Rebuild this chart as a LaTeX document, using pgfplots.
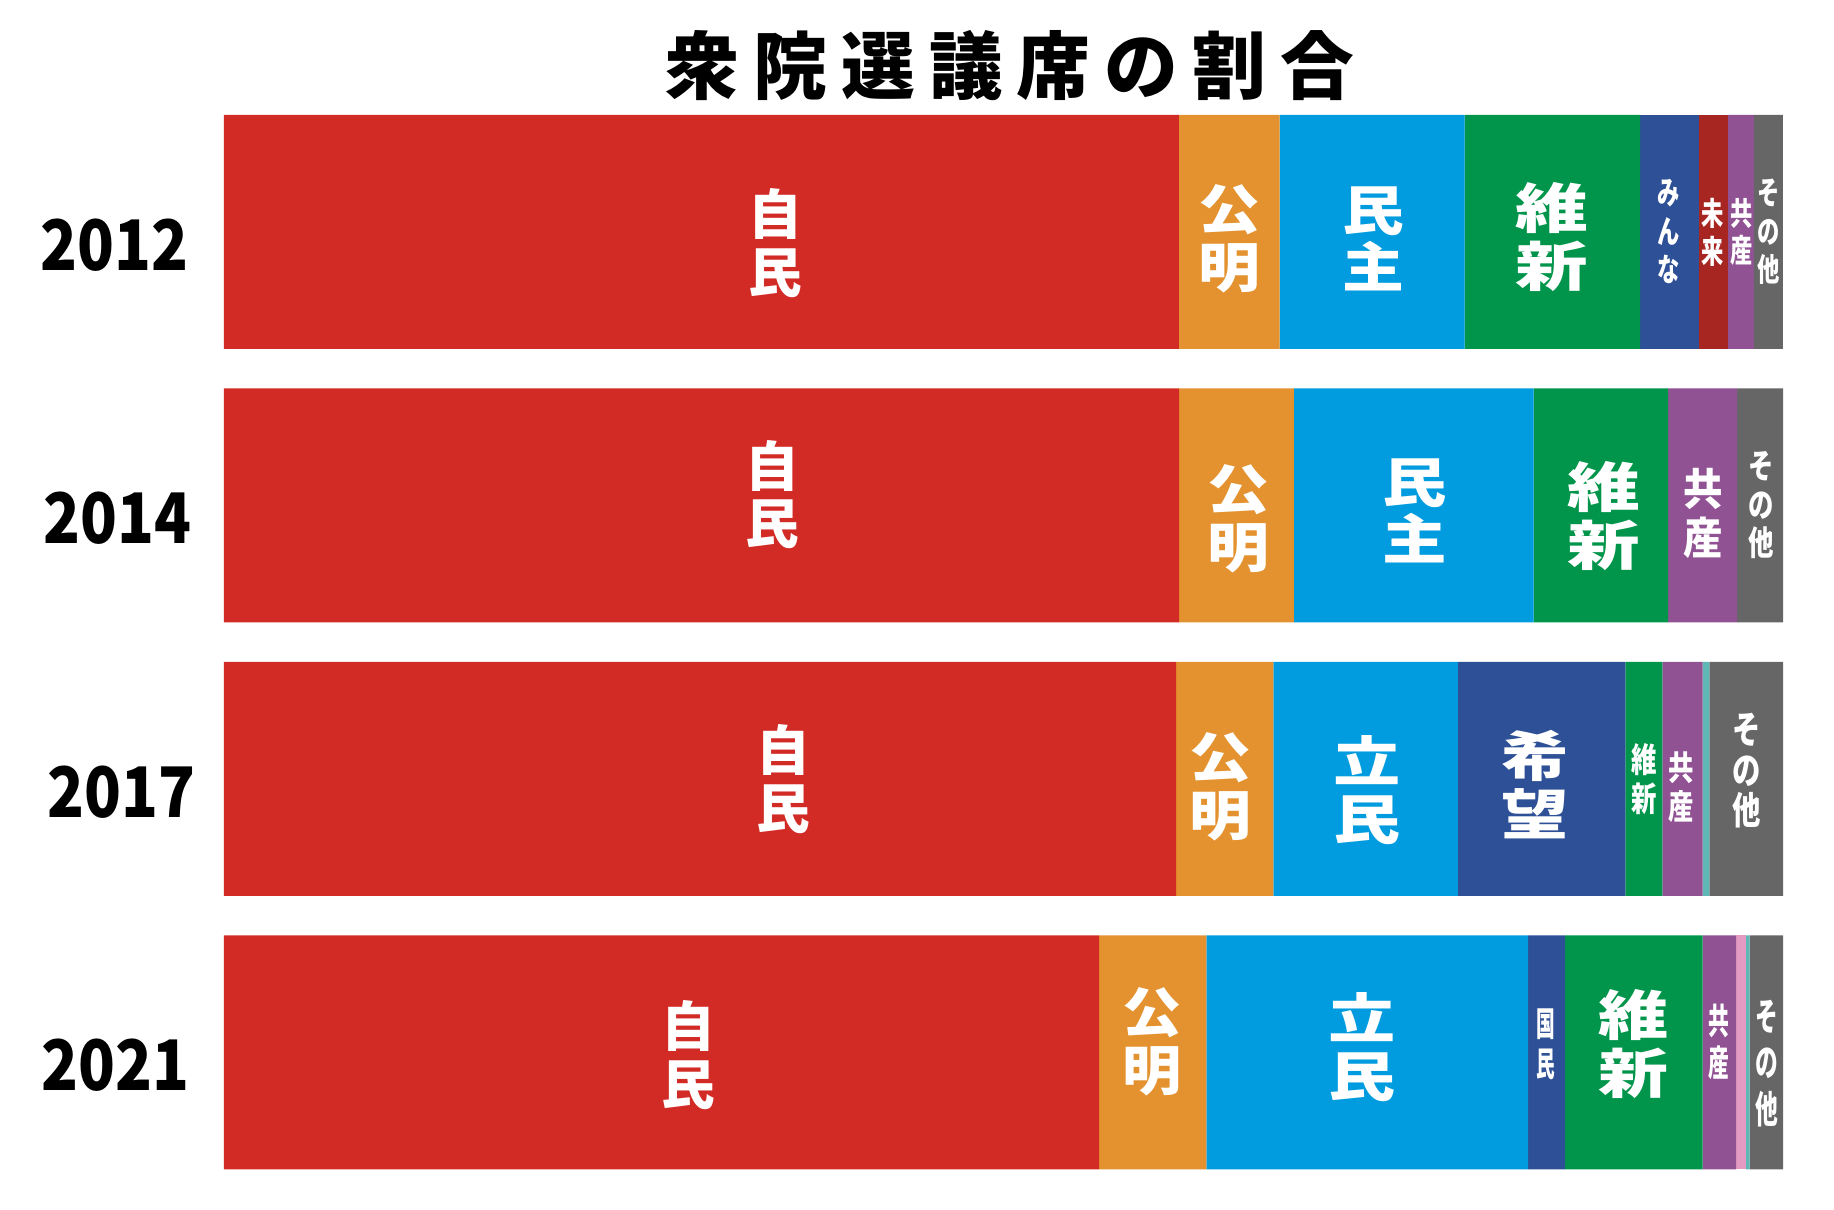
\documentclass[border=0pt]{standalone}
\usepackage{pgfplots}
\usepackage{pgfplotstable}
\usepackage{fontspec}
\pgfplotsset{compat=1.18}
\newfontfamily\jp{Noto Sans CJK JP}
\definecolor{cLDP}{RGB}{210,43,38}
\definecolor{cKOM}{RGB}{228,146,47}
\definecolor{cCDP}{RGB}{0,156,223}
\definecolor{cISH}{RGB}{0,149,74}
\definecolor{cDBL}{RGB}{45,80,150}
\definecolor{cMIR}{RGB}{168,38,34}
\definecolor{cJCP}{RGB}{145,82,148}
\definecolor{cREI}{RGB}{228,155,195}
\definecolor{cSDP}{RGB}{95,183,181}
\definecolor{cOTH}{RGB}{102,102,102}
\pgfplotstableread{
idx total ldp kom cdp dbla ishin dblb mirai jcp reiwa sdp oth
0 480 294 31 57 0 54 18 9 8 0 0 9
1 475 291 35 73 0 41 0 0 21 0 0 14
2 465 284 29 55 50 11 0 0 12 0 2 22
3 465 261 32 96 11 41 0 0 10 3 1 10
}\seats
% label anchor inside the axis, label text drawn after the axis (on top of the bars)
\newcommand{\lc}[3]{\coordinate (#1) at (axis cs:#2,#3);}
\newcommand{\lab}[5]{\node[text=white, align=center, inner sep=0pt, xscale=#4,
  font={\jp\bfseries\fontsize{#2}{#3}\selectfont}] at (#1) {#5};}
\begin{document}
\begin{tikzpicture}
\begin{axis}[name=ax,
  scale only axis, width=779.5bp, height=547bp,
  xbar stacked, bar width=117bp,
  xmin=0, xmax=100, ymin=-0.5, ymax=3.5, y dir=reverse,
  enlargelimits=false, clip=false,
  xtick=\empty, ytick={0,1,2,3},
  yticklabels={2012,2014\hspace*{-2bp},2017\hspace*{-4bp},2021\hspace*{-0.5bp}},
  yticklabel style={font={\jp\bfseries\fontsize{35}{35}\selectfont}, anchor=east, xscale=0.87, xshift=-17bp, yshift=-6.5bp},
  axis line style={draw=none}, major tick length=0pt, tick style={draw=none},
  every axis plot/.append style={draw=none},
]
\addplot[fill=cLDP] table[y=idx, x expr=\thisrow{ldp}/\thisrow{total}*100] {\seats};
\addplot[fill=cKOM] table[y=idx, x expr=\thisrow{kom}/\thisrow{total}*100] {\seats};
\addplot[fill=cCDP] table[y=idx, x expr=\thisrow{cdp}/\thisrow{total}*100] {\seats};
\addplot[fill=cDBL] table[y=idx, x expr=\thisrow{dbla}/\thisrow{total}*100] {\seats};
\addplot[fill=cISH] table[y=idx, x expr=\thisrow{ishin}/\thisrow{total}*100] {\seats};
\addplot[fill=cDBL] table[y=idx, x expr=\thisrow{dblb}/\thisrow{total}*100] {\seats};
\addplot[fill=cMIR] table[y=idx, x expr=\thisrow{mirai}/\thisrow{total}*100] {\seats};
\addplot[fill=cJCP] table[y=idx, x expr=\thisrow{jcp}/\thisrow{total}*100] {\seats};
\addplot[fill=cREI] table[y=idx, x expr=\thisrow{reiwa}/\thisrow{total}*100] {\seats};
\addplot[fill=cSDP] table[y=idx, x expr=\thisrow{sdp}/\thisrow{total}*100] {\seats};
\addplot[fill=cOTH] table[y=idx, x expr=\thisrow{oth}/\thisrow{total}*100] {\seats};
% 2012
\lc{a1}{35.4}{0.04}\lc{a2}{64.5}{0.025}\lc{a3}{73.7}{0.025}\lc{a4}{85.2}{0.02}
\lc{a5}{92.65}{0}\lc{a6}{95.5}{0}\lc{a7}{97.35}{0}\lc{a8}{99.1}{0}
% 2014
\lc{b1}{35.2}{0.96}\lc{b2}{65.1}{1.05}\lc{b3}{76.4}{1.02}\lc{b4}{88.5}{1.04}
\lc{b5}{94.85}{1.03}\lc{b6}{98.6}{1.0}
% 2017
\lc{c1}{35.9}{2.0}\lc{c2}{63.9}{2.03}\lc{c3}{73.3}{2.04}\lc{c4}{84.1}{2.02}
\lc{c5}{91.1}{2.0}\lc{c6}{93.5}{2.03}\lc{c7}{97.65}{1.97}
% 2021
\lc{d1}{29.8}{3.01}\lc{d2}{59.5}{2.96}\lc{d3}{73.0}{2.98}\lc{d4}{84.8}{2.97}
\lc{d5}{90.4}{2.97}\lc{d6}{95.9}{2.96}\lc{d7}{98.95}{3.04}
\end{axis}
% 2012
\lab{a1}{27}{29}{1.0}{自\\民}
\lab{a2}{27}{29}{1.15}{公\\明}
\lab{a3}{27}{29}{1.15}{民\\主}
\lab{a4}{27}{29}{1.35}{維\\新}
\lab{a5}{16}{19.3}{0.7}{み\\ん\\な}
\lab{a6}{16}{19}{0.7}{未\\来}
\lab{a7}{16}{19}{0.7}{共\\産}
\lab{a8}{16}{19.3}{0.7}{そ\\の\\他}
% 2014
\lab{b1}{27}{29}{1.0}{自\\民}
\lab{b2}{27}{29}{1.15}{公\\明}
\lab{b3}{27}{29}{1.2}{民\\主}
\lab{b4}{27}{29}{1.35}{維\\新}
\lab{b5}{22}{24.6}{0.9}{共\\産}
\lab{b6}{17}{19.3}{0.75}{そ\\の\\他}
% 2017
\lab{c1}{27}{29}{1.0}{自\\民}
\lab{c2}{27}{29}{1.15}{公\\明}
\lab{c3}{27}{29}{1.25}{立\\民}
\lab{c4}{27}{29}{1.25}{希\\望}
\lab{c5}{17}{19.3}{0.75}{維\\新}
\lab{c6}{17}{19.3}{0.75}{共\\産}
\lab{c7}{19}{20.5}{0.75}{そ\\の\\他}
% 2021
\lab{d1}{27}{29}{1.0}{自\\民}
\lab{d2}{27}{29}{1.1}{公\\明}
\lab{d3}{27}{29}{1.25}{立\\民}
\lab{d4}{17}{20.5}{0.55}{国\\民}
\lab{d5}{27}{29}{1.3}{維\\新}
\lab{d6}{18}{21}{0.58}{共\\産}
\lab{d7}{19}{23.4}{0.6}{そ\\の\\他}
\node[font={\jp\bfseries\fontsize{37}{37}\selectfont}, inner sep=0pt] at ([xshift=3.25bp, yshift=15bp]ax.north)
  {\makebox[43.9bp]{衆}\makebox[43.9bp]{院}\makebox[43.9bp]{選}\makebox[43.9bp]{議}\makebox[43.9bp]{席}\makebox[43.9bp]{の}\makebox[43.9bp]{割}\makebox[43.9bp]{合}};
\pgfresetboundingbox
\path[use as bounding box] ([xshift=-112bp, yshift=-10.4bp]ax.south west) rectangle ([xshift=25.5bp, yshift=47.6bp]ax.north east);
\end{tikzpicture}
\end{document}
